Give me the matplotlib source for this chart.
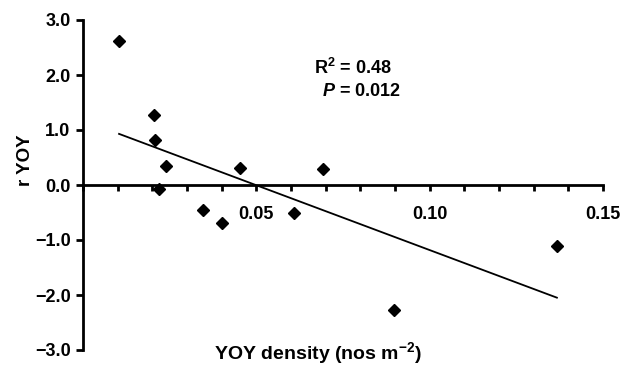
import numpy as np
import matplotlib
matplotlib.use("Agg")
import matplotlib.pyplot as plt
from matplotlib.ticker import MultipleLocator

# values
yoy_density = [0.0104, 0.0205, 0.0208, 0.0240, 0.0220, 0.0346,
               0.0400, 0.0453, 0.0609, 0.0692, 0.0897, 0.1367]
r_yoy = [2.62, 1.27, 0.82, 0.35, -0.07, -0.45,
         -0.69, 0.31, -0.51, 0.29, -2.27, -1.11]
x_ticks = [0.05, 0.10, 0.15]
y_ticks = [-3.0, -2.0, -1.0, 0.0, 1.0, 2.0, 3.0]

plt.rcParams["font.family"] = ["Liberation Sans", "DejaVu Sans"]
plt.rcParams["font.weight"] = "bold"
plt.rcParams["mathtext.fontset"] = "custom"
plt.rcParams["mathtext.rm"] = "Liberation Sans:bold"
plt.rcParams["mathtext.bf"] = "Liberation Sans:bold"
plt.rcParams["mathtext.it"] = "Liberation Sans:bold:italic"

fig = plt.figure(figsize=(6.29, 3.66), dpi=100)
ax = fig.add_axes([83 / 629, 16 / 366, 520 / 629, 330 / 366])

ax.plot(yoy_density, r_yoy, "D", color="black", ms=6.3, mec="black")

# least squares line over the data range
slope, icpt = np.polyfit(yoy_density, r_yoy, 1)
xs = np.array([min(yoy_density), max(yoy_density)])
ax.plot(xs, slope * xs + icpt, color="black", lw=1.3)

ax.set_xlim(0, 0.15)
ax.set_ylim(-3.0, 3.0)
ax.spines["top"].set_visible(False)
ax.spines["right"].set_visible(False)
ax.spines["bottom"].set_position(("data", 0))
ax.spines["bottom"].set_linewidth(2)
ax.spines["left"].set_linewidth(2)

ax.set_xticks(x_ticks)
ax.set_xticklabels([f"{v:.2f}" for v in x_ticks])
ax.xaxis.set_minor_locator(MultipleLocator(0.01))
ax.set_yticks(y_ticks)
ax.set_yticklabels([f"{v:.1f}".replace("-", "\u2212") for v in y_ticks])

ax.tick_params(axis="x", which="both", direction="out", length=4, width=2,
               pad=11, labelsize=13)
ax.tick_params(axis="y", which="major", direction="out", length=5, width=2,
               pad=4, labelsize=13)

fig.text(26 / 629, 1 - 160 / 366, "r YOY", rotation=90, ha="center",
         va="center", fontsize=13.5, fontweight="bold")
fig.text(318 / 629, 1 - 353 / 366, "YOY density (nos m$^{\u22122}$)",
         ha="center", va="center", fontsize=14, fontweight="bold")

ax.text(0.0666, 2.12, "R$^{2}$ = 0.48", fontsize=13,
        fontweight="bold", ha="left", va="center")
ax.text(0.0688, 1.7, "$P$ = 0.012", fontsize=13,
        fontweight="bold", ha="left", va="center")

fig.savefig("out.png", dpi=100)
